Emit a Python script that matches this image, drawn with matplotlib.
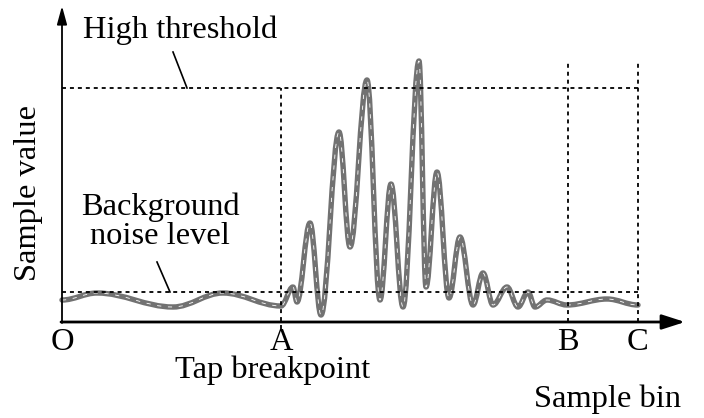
import matplotlib
matplotlib.use('Agg')
import matplotlib.pyplot as plt
from matplotlib.path import Path
from matplotlib.patches import PathPatch

plt.rcParams['font.family'] = ['Liberation Serif', 'DejaVu Serif']

# bin positions of the marked breakpoints
bin_a = 219
bin_b = 506
bin_c = 576
bin_end = 622

# levels
high_threshold = 234
noise_level = 30
value_top = 316

# extrema of the received waveform (sample bin, sample value)
wave_bins = [0, 35, 111, 161, 219, 231, 235, 248, 259, 277, 288, 305, 318,
             329, 341, 357, 364, 375, 387, 398, 411, 421, 431, 445, 456,
             466, 473, 485, 505, 545, 576]
wave_vals = [22, 29, 15, 29, 16, 35, 20, 99, 7, 190, 75, 242, 22,
             138, 15, 261, 35, 150, 24, 85, 17, 49, 17, 35, 15,
             30, 15, 22, 17, 23, 17]

point_labels = ['O', 'A', 'B', 'C']
point_bins = [0, bin_a, bin_b, bin_c]


def smooth_path(xs, ys):
  # cubic bezier between extrema, flat tangents at each extremum
  verts = [(xs[0], ys[0])]
  codes = [Path.MOVETO]
  for i in range(1, len(xs)):
    d = xs[i] - xs[i - 1]
    verts += [(xs[i - 1] + 0.364 * d, ys[i - 1]),
              (xs[i] - 0.364 * d, ys[i]),
              (xs[i], ys[i])]
    codes += [Path.CURVE4] * 3
  return Path(verts, codes)


fig = plt.figure(figsize=(7.04, 4.18), dpi=100)
ax = fig.add_axes([0, 0, 1, 1])
ax.set_xlim(-62, 642)
ax.set_ylim(-96, 322)
ax.axis('off')

fs = 23.4
dot = dict(color='black', lw=1.3, linestyle=(0, (2.2, 2.2)))

# threshold lines
ax.plot([0, bin_c], [high_threshold, high_threshold], **dot)
ax.plot([0, bin_c], [noise_level, noise_level], **dot)
# breakpoint lines
ax.plot([bin_a, bin_a], [-7, high_threshold], **dot)
ax.plot([bin_b, bin_b], [0, 262], **dot)
ax.plot([bin_c, bin_c], [0, 262], **dot)

# waveform: grey with thin white dashes inside
path = smooth_path(wave_bins, wave_vals)
ax.add_patch(PathPatch(path, fill=False, edgecolor='#727272', lw=3.9,
                       capstyle='round', joinstyle='round'))
ax.add_patch(PathPatch(path, fill=False, edgecolor='white', lw=0.6,
                       linestyle=(0, (5, 8))))

# axes with arrows
ax.annotate('', xy=(bin_end + 1, 0), xytext=(-1, 0),
            arrowprops=dict(arrowstyle='-|>,head_length=1.4,head_width=0.45',
                            color='black', lw=2, shrinkA=0, shrinkB=0))
ax.annotate('', xy=(0, value_top), xytext=(0, -1),
            arrowprops=dict(arrowstyle='-|>,head_length=1.1,head_width=0.3',
                            color='black', lw=1.3, shrinkA=0, shrinkB=0))

# labels
for lab, b in zip(point_labels, point_bins):
  ax.text(b, -20, lab, fontsize=fs, ha='center', va='center')
ax.text(bin_a - 8, -48, 'Tap breakpoint', fontsize=fs, ha='center', va='center')
ax.text(546, -77, 'Sample bin', fontsize=fs, ha='center', va='center')
ax.text(-33, 129, 'Sample value', fontsize=fs, ha='center', va='center',
        rotation=90)

ax.text(118, 292, 'High threshold', fontsize=fs, ha='center', va='center')
ax.plot([111, 125], [270, high_threshold], color='black', lw=1.2)
ax.text(98, 100, 'Background\nnoise level', fontsize=fs, ha='center',
        va='center', linespacing=1.02)
ax.plot([95, 108], [60, noise_level], color='black', lw=1.2)

fig.savefig('out.png', dpi=100)
